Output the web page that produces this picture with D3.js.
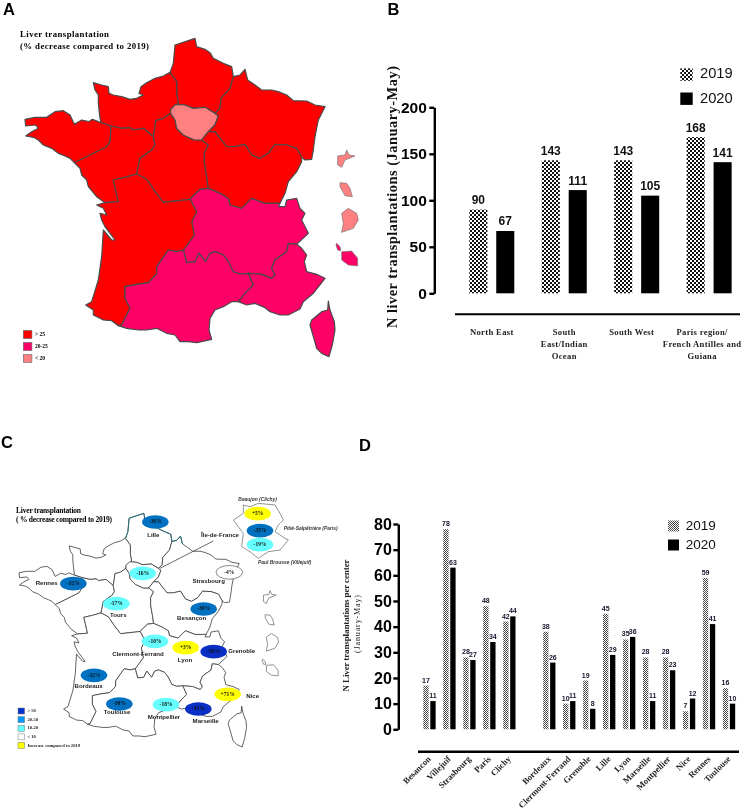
<!DOCTYPE html>
<html><head><meta charset="utf-8">
<script src="https://cdnjs.cloudflare.com/ajax/libs/d3/7.8.5/d3.min.js"></script>
<style>html,body{margin:0;padding:0;background:#fff}svg{display:block;filter:blur(.3px)}</style>
</head><body><svg id="c" width="742" height="811"></svg>
<script>
// ---------- data ----------
const regionCategories = ["North East","South East/Indian Ocean","South West","Paris region/French Antilles and Guiana"];
const regionLabelLines = [["North East"],["South","East/Indian","Ocean"],["South West"],["Paris region/","French Antilles and","Guiana"]];
const years = ["2019","2020"];
const regionValues2019 = [90,143,143,168];
const regionValues2020 = [67,111,105,141];
const regionTicks = [0,50,100,150,200];

const centers = ["Besancon","Villejuif","Strasbourg","Paris","Clichy","","Bordeaux","Clermont-Ferrand","Grenoble","Lille","Lyon","Marseille","Montpellier","Nice","Rennes","Toulouse"];
const centerValues2019 = [17,78,28,48,42,null,38,10,19,45,35,28,28,7,59,16];
const centerValues2020 = [11,63,27,34,44,null,26,11,8,29,36,11,23,12,41,10];
const centerTicks = [0,10,20,30,40,50,60,70,80];

// Map borders: shared arcs, each in the local grid of one map tile.
const tile = o => pts => pts.map(p=>[o[0]+p[0],o[1]+p[1]]);
const nw = tile([45,90]), ne = tile([495,90]), sw = tile([225,510]), se = tile([525,555]);
const rev = a => a.slice().reverse();

const norHdf = nw([[465,127],[485,155],[485,190],[490,220],[467,238]]);
const hdfCoast = ne([[15,128],[25,100],[30,45],[90,25],[95,50],[120,58],[135,68],[145,85],[175,100],[200,110],[205,140]]);
const hdfGe = ne([[205,140],[195,175],[168,205],[165,235],[150,250]]);
const hdfIdf = ne([[150,250],[120,232],[85,235],[60,225],[32,223],[17,238]]);
const norCoast = nw([[465,127],[445,138],[420,145],[395,158],[378,170],[372,190],[385,195],[365,205],[345,208],[320,200],[295,195],[282,190],[280,170],[260,165],[235,158],[240,180],[250,195],[250,220],[255,265],[258,278]]);
const norBre = nw([[258,278],[288,288]]);
const norPdl = nw([[288,288],[320,295],[345,293],[355,300],[385,295],[415,320]]);
const norCen = nw([[415,320],[420,290],[422,272],[445,265],[467,250]]);
const idfCen = ne([[17,250],[30,270],[35,295],[55,315],[88,330],[110,330]]);
const breCoast = nw([[258,278],[232,268],[222,275],[200,270],[178,283],[165,255],[145,242],[120,245],[95,262],[60,262],[30,268],[32,288],[62,285],[70,295],[50,305],[32,318],[55,322],[70,330],[85,345],[110,355],[130,370],[150,378],[165,385],[178,398]]);
const brePdl = nw([[178,398],[215,380],[245,365],[275,350],[285,335],[288,288]]);
const pdlCoast = nw([[178,398],[195,415],[200,435],[215,450],[220,470],[245,500],[270,518]]);
const pdlNa = sw([[90,98],[130,95],[115,30],[150,22],[185,12]]);
const pdlCen = nw([[415,320],[420,345],[410,360],[375,385],[365,432]]);
const cenNa = sw([[185,12],[215,28],[240,65],[265,97],[345,88]]);
const cenAra = ne([[75,507],[105,478],[130,475]]);
const cenBfc = ne([[110,330],[130,345],[118,370],[118,400],[125,440],[130,475]]);
const idfGe = ne([[150,250],[160,258],[150,285],[130,305]]);
const idfBfc = ne([[130,305],[110,330]]);
const geNorth = ne([[205,140],[225,135],[240,118],[248,150],[270,165],[290,180],[320,180],[340,185],[365,195],[385,212],[425,213],[450,225],[480,230],[460,270],[450,320],[445,360],[440,388],[420,390],[410,382]]);
const geBfc = ne([[130,305],[150,305],[165,325],[185,350],[210,350],[240,343],[260,375],[285,385],[310,370],[330,343],[365,345],[395,355],[410,382]]);
const bfcEast = ne([[410,382],[410,395],[395,425],[370,455],[360,490],[350,510],[345,520]]);
const bfcAra = ne([[345,520],[330,520],[300,520],[260,505],[230,535],[195,525],[190,505],[165,490],[130,475]]);
const araEast = se([[315,55],[310,65],[330,65],[335,45],[365,40],[375,70],[390,85],[380,105],[400,145],[365,178]]);
const araPaca = se([[365,178],[340,175],[335,200],[300,225],[290,250],[300,270],[290,280],[260,268],[222,265]]);
const araOcc = sw([[325,240],[335,278],[360,275],[372,250],[392,275],[405,250],[420,245],[445,255],[460,275],[475,305],[495,312],[520,310]]);
const naAra = sw([[345,88],[365,125],[350,155],[358,195],[325,240]]);
const naOcc = sw([[325,240],[305,245],[280,240],[245,290],[245,312],[220,338],[185,343],[150,350],[150,385],[165,415],[140,465],[130,467]]);
const naCoast = sw([[90,98],[65,105],[85,115],[95,135],[75,130],[80,150],[90,170],[105,190],[120,210],[110,210],[85,180],[80,260],[70,330],[50,395],[32,405],[55,420],[55,435],[85,450],[110,452],[130,467]]);
const occPaca = sw([[520,310],[535,345],[515,365],[490,395]]);
const occCoast = sw([[490,395],[470,395],[445,410],[420,420],[405,445],[402,480],[410,508],[365,518],[340,515],[315,515],[300,495],[275,490],[245,475],[215,480],[190,480],[155,475],[130,467]]);
const pacaCoast = se([[190,350],[215,360],[240,355],[270,368],[285,380],[315,390],[340,390],[375,372],[385,350],[415,325],[450,280],[425,268],[395,260],[388,230],[395,210],[380,190],[365,178]]);

const hautsDeFrance = [...hdfCoast,...hdfGe,...hdfIdf,...rev(norHdf)];
const normandie = [...norCoast,...norBre,...norPdl,...norCen,...ne([[17,238]]),...rev(norHdf)];
const bretagne = [...breCoast,...brePdl,...rev(norBre)];
const paysDeLaLoire = [...pdlCoast,...pdlNa,...rev(pdlCen),...rev(norPdl),...rev(brePdl)];
const centreVal = [...rev(norCen),...pdlCen,...cenNa,...cenAra,...rev(cenBfc),...rev(idfCen)];
const ileDeFrance = [...rev(hdfIdf),...idfGe,...idfBfc,...rev(idfCen)];
const grandEst = [...geNorth,...rev(geBfc),...rev(idfGe),...rev(hdfGe)];
const bourgogne = [...geBfc,...bfcEast,...bfcAra,...rev(cenBfc),...rev(idfBfc)];
const auvergneRhone = [...cenAra,...rev(bfcAra),...araEast,...araPaca,...rev(araOcc),...rev(naAra)];
const nouvelleAquitaine = [...pdlNa,...cenNa,...naAra,...naOcc,...rev(naCoast)];
const occitanie = [...araOcc,...occPaca,...occCoast,...rev(naOcc)];
const paca = [...araPaca,...occPaca,...pacaCoast];
const corse = se([[460,348],[465,375],[478,410],[480,435],[472,480],[462,515],[440,505],[425,490],[418,465],[405,420],[410,405],[440,380],[458,375]]);
const guadeloupe = ne([[518,378],[540,375],[545,360],[552,375],[570,378],[540,390],[530,412],[518,405]]);
const martinique = ne([[525,458],[545,460],[555,475],[562,500],[540,497],[525,470]]);
const guyane = se([[500,85],[520,70],[545,85],[550,105],[535,130],[500,142],[505,115]]);
const mayotte = se([[485,175],[495,185],[497,197],[488,195],[483,180]]);
const reunion = se([[500,200],[530,198],[548,220],[548,243],[520,240],[500,225]]);
const idfInset = [[55,45],[75,50],[100,40],[150,45],[165,70],[175,90],[160,105],[150,125],[180,145],[190,150],[165,180],[130,185],[100,205],[75,185],[50,170],[55,130],[25,90],[55,70]];

const mainlandRegions = [hautsDeFrance,normandie,bretagne,paysDeLaLoire,centreVal,ileDeFrance,grandEst,bourgogne,auvergneRhone,nouvelleAquitaine,occitanie,paca,corse];
const mainlandBands = [">25",">25",">25",">25",">25","<20",">25",">25","20-25",">25","20-25","20-25","20-25"];
const overseasRegions = [guadeloupe,martinique,guyane,mayotte,reunion];
const overseasBands = ["<20","<20","<20","20-25","20-25"];
const bandLabels = ["> 25","20-25","< 20"];
const bandKeys = [">25","20-25","<20"];

const bubbleNames = ["-36%","-16%","-32%","-17%","-4%","-39%","-10%","+3%","-50%","+71%","-32%","-38%","-18%","-43%"];
const bubbleBands = ["20-50","10-20","20-50","10-20","<10","20-50","10-20","up",">50","up","20-50","20-50","10-20",">50"];
const bubbleSpots = [[466,276],[428,430],[220,461],[349,521],[688,427],[611,537],[465,634],[557,653],[641,665],[683,793],[282,736],[358,822],[498,824],[595,837]];
const cityNames = ["Lille","Rennes","Tours","Strasbourg","Besançon","Clermont-Ferrand","Lyon","Grenoble","Nice","Bordeaux","Toulouse","Montpellier","Marseille","Île-de-France"];
const citySpots = [[460,316],[140,459],[355,556],[626,453],[575,566],[414,672],[555,690],[725,663],[758,798],[266,768],[351,847],[492,862],[617,873],[660,317]];
const insetNames = ["+5%","-35%","-19%"];
const insetBands = ["up","20-50","10-20"];
const insetSpots = [[98,71],[105,122],[105,164]];
const hospitalNames = ["Beaujon (Clichy)","Pitié-Salpêtrière (Paris)","Paul Brousse (Villejuif)"];
const hospitalSpots = [[98,28],[257,115],[179,218]];
const changeLabels = ["> 50","20-50","10-20","< 10","Increase compared to 2019"];
const changeKeys = [">50","20-50","10-20","<10","up"];

// ---------- setup ----------
const svg = d3.select("#c");
const SANS = "'Liberation Sans',Arial,sans-serif", SERIF = "'Liberation Serif','Times New Roman',serif";
const defs = svg.append("defs");
function checker(id, c, dark){
  const p = defs.append("pattern").attr("id",id).attr("width",2*c).attr("height",2*c).attr("patternUnits","userSpaceOnUse");
  p.append("rect").attr("width",2*c).attr("height",2*c).attr("fill","#fff");
  p.append("rect").attr("width",c).attr("height",c).attr("fill",dark);
  p.append("rect").attr("x",c).attr("y",c).attr("width",c).attr("height",c).attr("fill",dark);
}
checker("chk",2,"#111"); checker("fine",1,"#444");

function put(g,x,y,t,o={}){
  const e=g.append("text").attr("x",x).attr("y",y).text(t)
   .attr("font-family",o.ff||SANS).attr("font-size",o.fs||10).attr("font-weight",o.w||"normal")
   .attr("font-style",o.st||"normal").attr("fill",o.fill||"#000").attr("text-anchor",o.a||"start")
   .attr("dominant-baseline",o.b||"middle");
  if(o.len) e.attr("textLength",o.len).attr("lengthAdjust","spacing");
  if(o.rot!==undefined) e.attr("transform",`rotate(${o.rot} ${x} ${y})`);
  return e;
}
const poly = pts => ({type:"Feature",geometry:{type:"Polygon",coordinates:[[...pts,pts[0]]]}});

// panel letters
[["A",3,14.5],["B",387.5,14.5],["C",1,448],["D",359,451]].forEach(([t,x,y])=>
  put(svg,x,y,t,{fs:16.5,w:"bold",b:"auto"}));

// ---------- panel A ----------
const bandColor = d3.scaleOrdinal(bandKeys,["#FF0000","#FF0066","#FF8080"]);
const gA = svg.append("g");
const projA = d3.geoIdentity().scale(1/3).translate([0,0]);
const pathA = d3.geoPath(projA);
gA.selectAll("path.m").data(mainlandRegions.map((r,i)=>({r,b:mainlandBands[i]}))).join("path").attr("class","m")
  .attr("d",d=>pathA(poly(d.r))).attr("fill",d=>bandColor(d.b)).attr("stroke","#4a4a4a").attr("stroke-width",1.2).attr("stroke-linejoin","round");
gA.selectAll("path.o").data(overseasRegions.map((r,i)=>({r,b:overseasBands[i]}))).join("path").attr("class","o")
  .attr("d",d=>pathA(poly(d.r))).attr("fill",d=>bandColor(d.b)).attr("stroke","#777").attr("stroke-width",.7);
put(gA,20,35,"Liver transplantation",{ff:SERIF,fs:8.8,w:"bold",len:89});
put(gA,20,46.5,"(% decrease compared to 2019)",{ff:SERIF,fs:8.8,w:"bold",len:129});
const legAy = d3.scalePoint(bandKeys,[334.5,358.5]);
bandKeys.forEach((k,i)=>{
  gA.append("rect").attr("x",23.3).attr("y",legAy(k)-4).attr("width",8.6).attr("height",8).attr("fill",bandColor(k)).attr("stroke","#666").attr("stroke-width",.6);
  put(gA,35,legAy(k),bandLabels[i],{ff:SERIF,fs:5.5,w:"bold"});
});

// ---------- panel B ----------
function groupedBars(g,cfg){
  const y = d3.scaleLinear(cfg.domain,[cfg.y0,cfg.yTop]);
  const x = d3.scaleBand(cfg.cats,[cfg.x0,cfg.x0+cfg.step*(cfg.cats.length-1)+cfg.groupW]).paddingInner(1-cfg.groupW/cfg.step).paddingOuter(0);
  const xi = d3.scaleBand(years,[0,x.bandwidth()]).paddingInner(cfg.innerPad);
  const ax = g.append("g").attr("transform",`translate(${cfg.axisX},0)`).call(d3.axisLeft(y).tickValues(cfg.ticks).tickFormat(d3.format("d")).tickSize(5).tickSizeOuter(0).tickPadding(cfg.tp));
  ax.selectAll("path,line").attr("stroke","#000").attr("stroke-width",2.4);
  ax.selectAll("text").attr("font-family",SANS).attr("font-size",cfg.tickFs).attr("font-weight","bold").attr("fill","#000");
  years.forEach((yr,k)=>{
    const vals = k===0?cfg.v19:cfg.v20;
    const rows = cfg.cats.map((c,i)=>({c,v:vals[i]})).filter(d=>d.v!==null);
    g.selectAll(`rect.y${yr}`).data(rows).join("rect").attr("class",`y${yr}`)
      .attr("x",d=>x(d.c)+xi(yr)).attr("width",xi.bandwidth())
      .attr("y",d=>y(d.v)).attr("height",d=>y(0)-y(d.v))
      .attr("fill",k===0?`url(#${cfg.pat})`:"#000");
    g.selectAll(`text.y${yr}`).data(rows).join("text").attr("class",`y${yr}`)
      .attr("x",d=>x(d.c)+xi(yr)+xi.bandwidth()/2).attr("y",d=>y(d.v)-cfg.lblGap)
      .attr("text-anchor","middle").attr("font-family",SANS).attr("font-weight","bold")
      .attr("font-size",cfg.lblFs).attr("fill",cfg.lblFill).text(d=>d.v);
  });
  g.append("line").attr("x1",cfg.ruleX[0]).attr("x2",cfg.ruleX[1]).attr("y1",cfg.ruleY).attr("y2",cfg.ruleY).attr("stroke","#000").attr("stroke-width",cfg.ruleW);
  years.forEach((yr,k)=>{
    const cy = cfg.legY[k];
    g.append("rect").attr("x",cfg.legX).attr("y",cy-cfg.legS/2).attr("width",cfg.legS).attr("height",cfg.legS).attr("fill",k===0?`url(#${cfg.pat})`:"#000");
    put(g,cfg.legTx,cy,yr,{fs:cfg.legFs,fill:"#111"});
  });
  return {x,y};
}
const gB = svg.append("g");
const B = groupedBars(gB,{domain:[0,200],y0:293.3,yTop:107.3,x0:469.3,step:72.45,groupW:45,innerPad:.33,cats:regionCategories,
  v19:regionValues2019,v20:regionValues2020,ticks:regionTicks,axisX:434.3,tp:2.5,tickFs:15.5,pat:"chk",lblGap:5.5,lblFs:12,lblFill:"#111",
  ruleX:[455,740],ruleY:314.3,ruleW:2,legX:680.3,legS:12.4,legY:[74.6,98.7],legTx:700,legFs:14.7});
const labelNudge = [0,0,-5,-7];
regionCategories.forEach((c,i)=>{
  const cx = B.x(c)+B.x.bandwidth()/2+labelNudge[i];
  regionLabelLines[i].forEach((t,j)=>put(gB,cx,333.5+j*11.6,t,{ff:SERIF,fs:8.6,w:"bold",a:"middle",fill:"#222"}).attr("letter-spacing",.35));
});
put(gB,394,197,"N liver transplantations (January-May)",{ff:SERIF,fs:14.5,w:"bold",a:"middle",rot:-90,len:262,fill:"#111"});

// ---------- panel C ----------
const changeColor = d3.scaleOrdinal(changeKeys,["#0033CC","#0099FF","#66FFFF","#FFFFFF","#FFFF00"]);
const bubbleColor = k => k==="20-50" ? "#0070C0" : k===">50" ? "#0B2FC4" : changeColor(k);
const gC = svg.append("g");
const projC = d3.geoIdentity().scale(.734/3).translate([.67,485.2]);
const projCi = d3.geoIdentity().scale(.734/3).translate([15.6,480.6]);
const projLbl = d3.geoIdentity().scale(1/3).translate([0,430]);
const projInset = d3.geoIdentity().scale(1/3).translate([225,490]);
const outline = (g,proj,list,col,w)=>g.selectAll(null).data(list).join("path").attr("d",r=>d3.geoPath(proj)(poly(r)))
   .attr("fill","#fff").attr("stroke",col).attr("stroke-width",w).attr("stroke-linejoin","round");
outline(gC,projC,mainlandRegions,"#3c3c3c",.8);
outline(gC,projCi,overseasRegions,"#666",.7);
outline(gC,projInset,[idfInset],"#777",.8);
gC.append("path").datum({type:"LineString",coordinates:hdfCoast.concat(geNorth.slice(0,4))})
  .attr("d",d3.geoPath(projC)).attr("fill","none").attr("stroke","#1f6f78").attr("stroke-width",.9);
const leaderEnds = [[640,333],[480,415]];
gC.append("path").datum({type:"LineString",coordinates:leaderEnds}).attr("d",d3.geoPath(projLbl)).attr("fill","none").attr("stroke","#444").attr("stroke-width",.8);
function bubbles(proj,names,bands,spots){
  names.forEach((t,i)=>{
    const [x,y]=proj(spots[i]);
    gC.append("ellipse").attr("cx",x).attr("cy",y).attr("rx",13.3).attr("ry",6.8).attr("fill",bubbleColor(bands[i]))
      .attr("stroke",bands[i]==="<10"?"#555":"none").attr("stroke-width",.7);
    put(gC,x,y,t,{ff:SERIF,fs:5.5,w:"bold",a:"middle",fill:"#111"});
  });
}
bubbles(projLbl,bubbleNames,bubbleBands,bubbleSpots);
bubbles(projInset,insetNames,insetBands,insetSpots);
cityNames.forEach((t,i)=>{const [x,y]=projLbl(citySpots[i]);put(gC,x,y,t,{fs:6.1,w:"bold",a:"middle",fill:"#222"});});
hospitalNames.forEach((t,i)=>{const [x,y]=projInset(hospitalSpots[i]);put(gC,x,y,t,{fs:4.9,w:"bold",st:"italic",a:"middle",fill:"#333"});});
put(gC,16,511.5,"Liver transplantation",{ff:SERIF,fs:7.5,w:"bold",len:65});
put(gC,16,519.8," ( % decrease compared to 2019)",{ff:SERIF,fs:7.5,w:"bold",len:96});
const legCy = d3.scalePoint(changeKeys,[711,745.5]);
changeKeys.forEach((k,i)=>{
  gC.append("rect").attr("x",18).attr("y",legCy(k)-3).attr("width",6.6).attr("height",6).attr("fill",changeColor(k)).attr("stroke","#777").attr("stroke-width",.5);
  put(gC,27.5,legCy(k),changeLabels[i],{ff:SERIF,fs:4.6,w:"bold",fill:"#222"});
});

// ---------- panel D ----------
const gD = svg.append("g");
const D = groupedBars(gD,{domain:[0,80],y0:729.3,yTop:524,x0:423.3,step:19.97,groupW:12.33,innerPad:.24,cats:centers,
  v19:centerValues2019,v20:centerValues2020,ticks:centerTicks,axisX:398.3,tp:1.5,tickFs:16,pat:"fine",lblGap:3,lblFs:7,lblFill:"#14142e",
  ruleX:[418,739],ruleY:751.7,ruleW:2.4,legX:668,legS:11,legY:[526,545],legTx:685.7,legFs:13.5});
centers.filter(c=>c).forEach(c=>{
  const x = D.x(c)+D.x.bandwidth()/2+2, y=759.5;
  put(gD,x,y,c,{ff:SERIF,fs:8.7,w:"bold",a:"end",b:"auto",rot:-45,fill:"#222"});
});
put(gD,346.7,625.5,"N Liver transplantations per center",{ff:SERIF,fs:9,w:"bold",a:"middle",rot:-90,len:132,fill:"#222"});
put(gD,358,624,"(January-May)",{ff:SERIF,fs:8,a:"middle",rot:-90,len:58,fill:"#222"});
</script></body></html>
